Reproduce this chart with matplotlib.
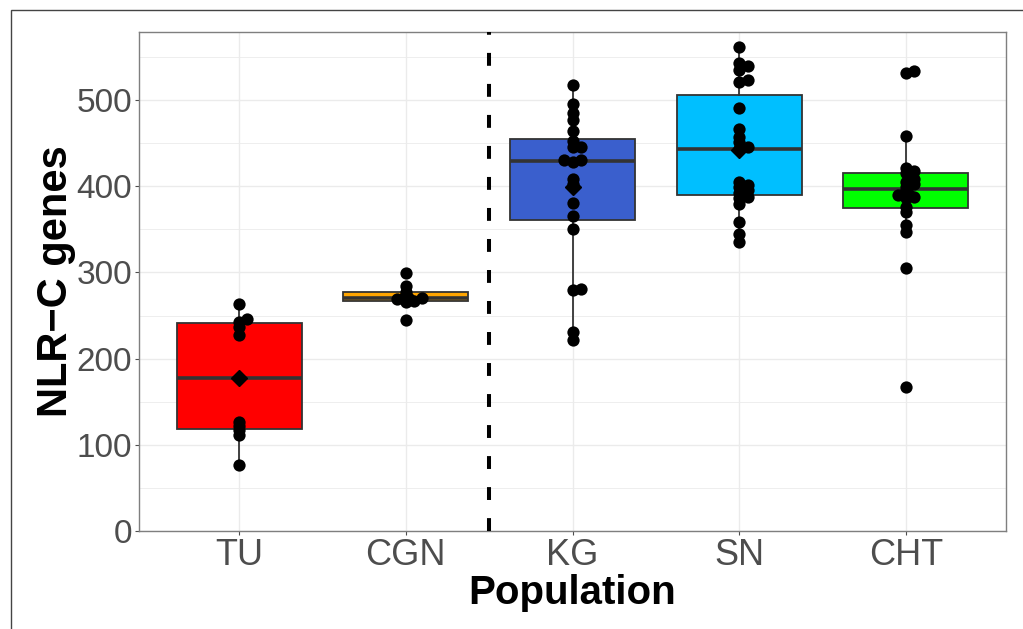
import numpy as np
import matplotlib.pyplot as plt
from matplotlib.patches import Rectangle

plt.rcParams['font.family'] = ['Liberation Sans', 'DejaVu Sans']

populations = ['TU', 'CGN', 'KG', 'SN', 'CHT']
box_colors = ['#FF0000', '#FFA500', '#3A5FCD', '#00BFFF', '#00FF00']

tu = [77, 111, 117, 122, 127, 228, 237, 243, 246, 263]
cgn = [245, 266, 267, 269, 270, 272, 277, 284, 299]
kg = [222, 231, 280, 281, 350, 365, 381, 403, 409, 428,
      430, 430, 445, 446, 452, 464, 477, 485, 496, 518]
sn = [335, 345, 358, 380, 386, 388, 392, 396, 399, 401, 405,
      443, 446, 451, 457, 467, 491, 521, 523, 535, 539, 543, 562]
cht = [167, 305, 347, 355, 370, 376, 386, 388, 390, 394,
       399, 403, 405, 409, 415, 418, 421, 458, 531, 534]
groups = [tu, cgn, kg, sn, cht]


def swarm(vals, xpx=166.7, ypx=0.862, mindist=4.0, step=0.05):
    # small sideways nudges so stacked points don't fully hide each other
    placed = []
    xs = []
    for v in vals:
        for k in [0, 1, -1, 2, -2]:
            dx = k * step
            ok = all(np.hypot((dx - px) * xpx, (v - py) * ypx) >= mindist
                     for px, py in placed)
            if ok:
                break
        placed.append((dx, v))
        xs.append(dx)
    return np.array(xs)


fig = plt.figure(figsize=(10.23, 6.29), dpi=100)
ax = fig.add_axes([139 / 1023, 1 - 531 / 629, 867 / 1023, 499 / 629])

pos = np.arange(1, len(populations) + 1)
bp = ax.boxplot(groups, positions=pos, widths=0.75, patch_artist=True,
                showfliers=False, showcaps=False, whis=1.5,
                medianprops=dict(color='#333333', linewidth=2.6),
                whiskerprops=dict(color='#333333', linewidth=1.3),
                boxprops=dict(edgecolor='#333333', linewidth=1.3),
                zorder=2)
for patch, c in zip(bp['boxes'], box_colors):
    patch.set_facecolor(c)

for i, vals in enumerate(groups):
    xs = pos[i] + swarm(vals)
    ax.scatter(xs, vals, s=78, color='black', zorder=3, linewidths=0)
    ax.plot(pos[i], np.mean(vals), marker='D', color='black',
            markersize=8.5, zorder=4)

ax.axvline(2.5, color='black', linewidth=2.9, dashes=(3.2, 4.5), zorder=5)

ax.set_xlim(0.4, 5.6)
ax.set_ylim(0, 579)
ax.set_xticks(pos)
ax.set_xticklabels(populations)
ax.set_yticks([0, 100, 200, 300, 400, 500])
ax.set_yticks([50, 150, 250, 350, 450, 550], minor=True)
ax.grid(True, which='major', color='#EBEBEB', linewidth=1.0, zorder=0)
ax.grid(True, which='minor', axis='y', color='#EBEBEB', linewidth=0.6, zorder=0)
ax.set_axisbelow(True)
ax.tick_params(axis='x', labelsize=26, colors='#4D4D4D', length=3, pad=2)
ax.tick_params(axis='y', labelsize=24, colors='#4D4D4D', length=3, pad=2)
ax.tick_params(axis='y', which='minor', length=0)
for sp in ax.spines.values():
    sp.set_color('#7F7F7F')
    sp.set_linewidth(1.0)

ax.set_xlabel('Population', fontsize=29, fontweight='bold', labelpad=1)
ax.set_ylabel('NLR\u2212C genes', fontsize=30, fontweight='bold', labelpad=0)

fig.patches.append(Rectangle((11 / 1023, -0.1), 1.2, 1 - 10 / 629 + 0.1,
                             transform=fig.transFigure, fill=False,
                             edgecolor='#444444', linewidth=1.0))

fig.savefig('out.png', dpi=100)
